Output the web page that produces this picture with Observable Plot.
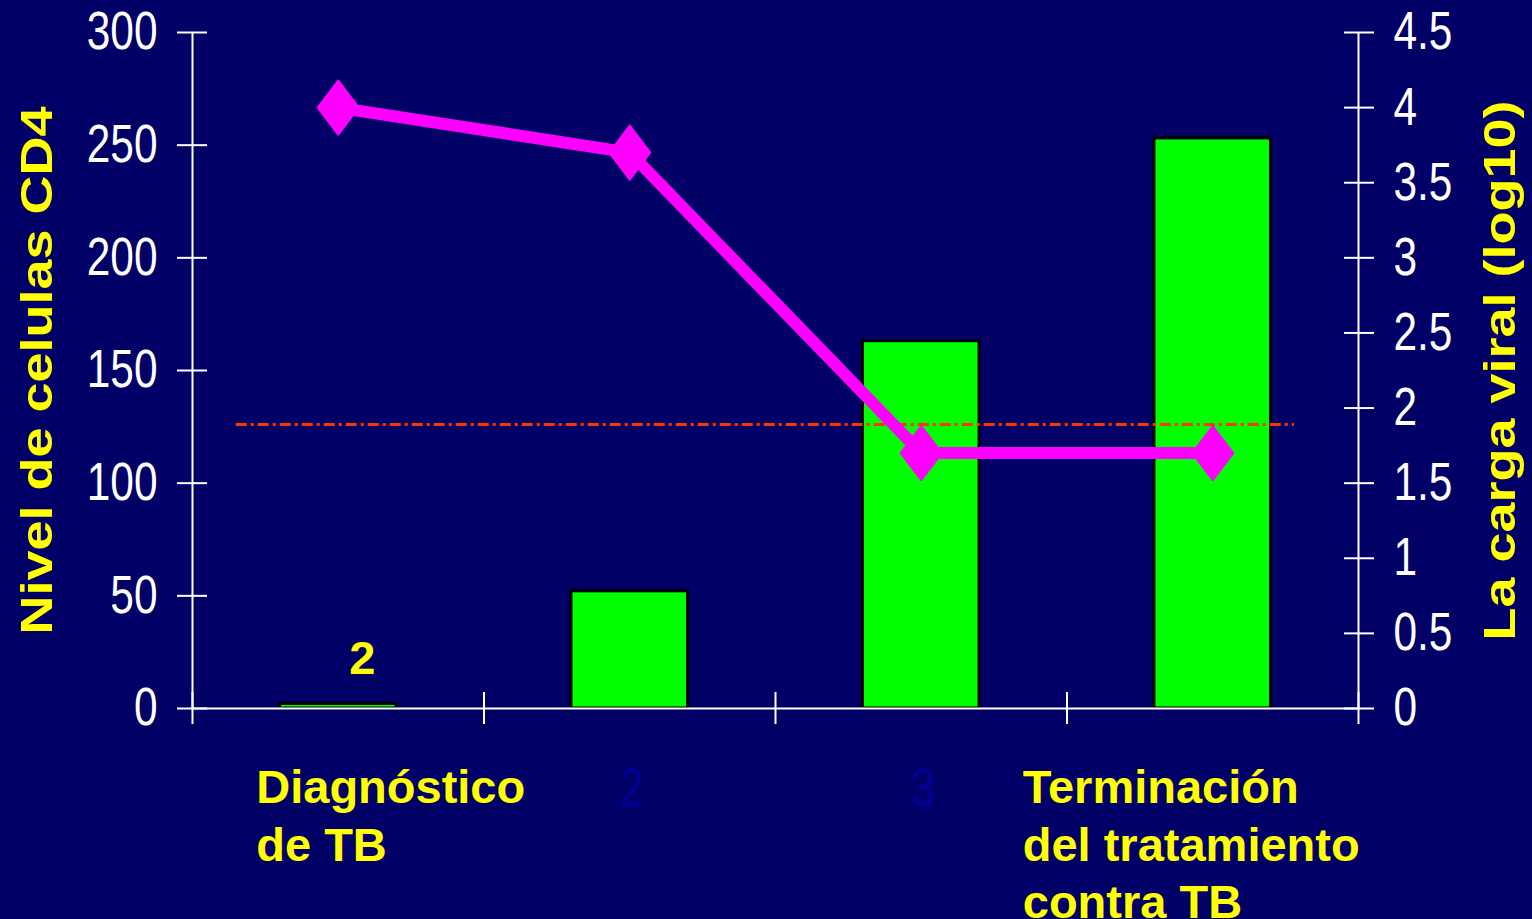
<!DOCTYPE html>
<html>
<head>
<meta charset="utf-8">
<script src="https://cdn.jsdelivr.net/npm/d3@7"></script>
<script src="https://cdn.jsdelivr.net/npm/@observablehq/plot@0.6"></script>
<style>
  html, body { margin: 0; padding: 0; background: #000066; overflow: hidden; }
</style>
</head>
<body>
<div id="chart"></div>
<script>
// ---- data ----
const categories = ["Diagnóstico\nde TB", "2", "3", "Terminación\ndel tratamiento\ncontra TB"];
const cd4Level = [2, 52, 163, 253];            // left axis (bars)
const viralLoad = [4.0, 3.7, 1.7, 1.7];        // right axis (line, log10)
const leftTicks = [0, 50, 100, 150, 200, 250, 300];
const rightTicks = [0, 0.5, 1, 1.5, 2, 2.5, 3, 3.5, 4, 4.5];
const categoryTicks = [0, 1, 2, 3, 4];
const refLevel = 126;                          // dashed reference line (CD4)
const barLabels = ["2"];                       // label above first bar
const leftTitle = "Nivel de celulas CD4";
const rightTitle = "La carga viral (log10)";

// ---- styles ----
const BG = "#000066", YELLOW = "#FFFF00", GREEN = "#00FF00", MAGENTA = "#FF00FF", REF = "#FF3300";
const leftMax = 300, rightMax = 4.5, k = leftMax / rightMax;

const rows = categories.map((c, i) => ({i, cat: c, cd4: cd4Level[i], vl: viralLoad[i]}));

const diamond = {
  draw(ctx, size) {
    const r = Math.sqrt(size / Math.PI);
    const h = r, w = r * 0.76;
    ctx.moveTo(0, -h); ctx.lineTo(w, 0); ctx.lineTo(0, h); ctx.lineTo(-w, 0); ctx.closePath();
  }
};

const chart = Plot.plot({
  width: 1532,
  height: 919,
  marginLeft: 192,
  marginRight: 174,
  marginTop: 32,
  marginBottom: 211,
  style: {background: BG, fontFamily: "'Liberation Sans', Arial, sans-serif", color: "white"},
  x: {type: "linear", domain: [0, categories.length], label: null},
  y: {domain: [0, leftMax], label: null},
  marks: [
    // bars
    Plot.rectY(rows, {x1: d => d.i + 0.3, x2: d => d.i + 0.7, y1: 0, y2: "cd4", fill: GREEN, stroke: "black", strokeWidth: 3}),
    // reference line
    Plot.ruleY([refLevel], {x1: 0.15, x2: 3.78, stroke: REF, strokeWidth: 3, strokeDasharray: "11,4,3,4"}),
    // axes lines
    Plot.ruleY([0], {stroke: "white", strokeWidth: 2}),
    Plot.ruleX([0, categories.length], {stroke: "white", strokeWidth: 2}),
    // x ticks (crossing)
    Plot.axisX({ticks: categoryTicks, tickSize: 32, dy: -16, stroke: "white", strokeWidth: 2, fill: "none", label: null}),
    // left axis
    Plot.axisY({ticks: leftTicks, tickSize: 30, dx: 15, stroke: "white", strokeWidth: 2, fill: "none", label: null}),
    Plot.axisY({ticks: leftTicks, tickSize: 0, tickPadding: 35, fill: "white", fontSize: 53, label: null}),
    // right axis
    Plot.axisY({anchor: "right", ticks: rightTicks.map(t => t * k), tickSize: 30, dx: -15, stroke: "white", strokeWidth: 2, fill: "none", label: null}),
    Plot.axisY({anchor: "right", ticks: rightTicks.map(t => t * k), tickFormat: d => String(+(d / k).toFixed(1)), tickSize: 0, tickPadding: 35, fill: "white", fontSize: 53, label: null}),
    // line + diamonds
    Plot.line(rows, {x: d => d.i + 0.5, y: d => d.vl * k, stroke: MAGENTA, strokeWidth: 12}),
    Plot.dot(rows, {x: d => d.i + 0.5, y: d => d.vl * k, symbol: diamond, r: 27, fill: MAGENTA, stroke: MAGENTA, strokeWidth: 2, strokeLinejoin: "round"}),
    // bar label
    Plot.text(rows.slice(0, barLabels.length), {x: d => d.i + 0.5, y: "cd4", text: (d, j) => barLabels[j], dx: 24, dy: -30, lineAnchor: "bottom", fill: YELLOW, fontSize: 47, fontWeight: "bold"}),
    // category labels
    Plot.text([rows[0]], {x: d => d.i + 0.5, text: "cat", frameAnchor: "bottom", dx: -82, dy: 54, textAnchor: "start", lineAnchor: "top", lineHeight: 1.22, fontSize: 47, fontWeight: "bold", fill: YELLOW}),
    Plot.text([rows[3]], {x: d => d.i + 0.5, text: "cat", frameAnchor: "bottom", dx: -190, dy: 54, textAnchor: "start", lineAnchor: "top", lineHeight: 1.22, fontSize: 47, fontWeight: "bold", fill: YELLOW}),
    Plot.text(rows.slice(1, 3), {x: d => d.i + 0.5, text: "cat", frameAnchor: "bottom", dx: 2, dy: 81, lineAnchor: "middle", fontSize: 53, fill: "#000099"}),
    // axis titles
    Plot.text([leftTitle], {frameAnchor: "left", dx: -155, rotate: -90, textAnchor: "middle", lineAnchor: "middle", fontSize: 45, fontWeight: "bold", fill: YELLOW}),
    Plot.text([rightTitle], {frameAnchor: "right", dx: 142, rotate: -90, textAnchor: "middle", lineAnchor: "middle", fontSize: 45, fontWeight: "bold", fill: YELLOW})
  ]
});

document.getElementById("chart").appendChild(chart);

// horizontal scaling of narrow (tick) text and stretched titles
function scaleText(t, sx) {
  let tr = t.getAttribute("transform") || "";
  const x = +(t.getAttribute("x") || 0), y = +(t.getAttribute("y") || 0);
  if (x || y) {
    tr = `translate(${x},${y}) ` + tr;
    t.removeAttribute("x"); t.removeAttribute("y");
  }
  t.setAttribute("transform", (tr + ` scale(${sx},1)`).trim());
}
chart.querySelectorAll("text").forEach(t => {
  const holder = t.closest("[font-size]");
  const fs = holder ? holder.getAttribute("font-size") : null;
  if (fs === "53") scaleText(t, 0.8);
  else if (fs === "45") scaleText(t, 1.2);
});
</script>
</body>
</html>
